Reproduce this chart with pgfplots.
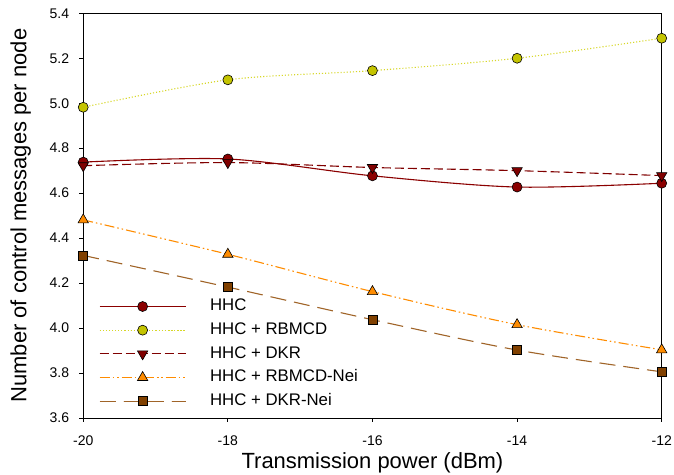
\documentclass[border=0pt]{standalone}
\usepackage{pgfplots}
\pgfplotsset{compat=1.18}
\usepackage{fontspec}
\setmainfont{Liberation Sans}

\definecolor{hhc}{RGB}{139,0,0}
\definecolor{rbm}{RGB}{196,196,0}
\definecolor{rbmline}{RGB}{215,215,40}
\definecolor{dkr}{RGB}{128,0,0}
\definecolor{nei}{RGB}{255,140,0}
\definecolor{dkrnei}{RGB}{128,64,0}
\definecolor{dkrneiline}{RGB}{160,100,40}

\begin{document}
\begin{tikzpicture}
% fixed page size: 674 x 475 with the plot box at (83,13)-(662,418)
\path[use as bounding box] (-83.3pt,-56.7pt) rectangle (591.3pt,418.3pt);
\begin{axis}[
    scale only axis,
    width=579pt, height=405pt,
    xmin=-20, xmax=-12,
    ymin=3.6, ymax=5.4,
    xtick={-20,-18,-16,-14,-12},
    ytick={3.6,3.8,4.0,4.2,4.4,4.6,4.8,5.0,5.2,5.4},
    yticklabel style={/pgf/number format/fixed, /pgf/number format/fixed zerofill,
        /pgf/number format/precision=1},
    /pgf/number format/assume math mode=true,
    tick pos=left,
    tick align=outside,
    major tick length=4pt,
    tick style={black, line width=0.8pt},
    axis line style={line width=0.8pt},
    tick label style={font=\fontsize{14}{16}\selectfont},
    yticklabel style={inner sep=0pt, xshift=-10pt},
    xticklabel style={inner sep=0pt, yshift=-14pt},
    xlabel={Transmission power (dBm)},
    ylabel={Number of control messages per node},
    label style={font=\fontsize{22}{26}\selectfont},
    xlabel style={at={(axis description cs:0.5,0)}, anchor=base, yshift=-50.7pt},
    ylabel style={at={(axis description cs:0,0.5)}, anchor=base, yshift=57pt},
    clip=false,
    legend cell align=left,
    legend image code/.code={
        \draw[mark repeat=2, mark phase=2, #1] plot coordinates {(0pt,0pt) (43pt,0pt) (86pt,0pt)};
    },
    legend style={
        draw=none, fill=none,
        at={(axis cs:-19.783,3.639)}, anchor=south west,
        inner sep=0pt, row sep=8.2pt, column sep=24pt,
        font=\fontsize{16.8}{19}\selectfont,
        nodes={inner sep=0pt, text height=12pt, text depth=3.5pt},
    },
]
\addplot[hhc, line width=1.1pt, smooth, mark=*, mark size=5pt,
    mark options={solid, fill=hhc, draw=black, line width=0.6pt}]
    coordinates {(-20,4.738) (-18,4.752) (-16,4.677) (-14,4.627) (-12,4.644)};
\addlegendentry{HHC}

\addplot[rbmline, line width=1.1pt, smooth, dotted, mark=*, mark size=5pt,
    mark options={solid, fill=rbm, draw=black, line width=0.6pt}]
    coordinates {(-20,4.982) (-18,5.104) (-16,5.145) (-14,5.200) (-12,5.289)};
\addlegendentry{HHC + RBMCD}

\addplot[dkr, line width=1.1pt, smooth, dash pattern=on 9pt off 4pt, mark=triangle*, mark size=6pt,
    mark options={solid, rotate=180, fill=dkr, draw=black, line width=0.6pt}]
    coordinates {(-20,4.722) (-18,4.736) (-16,4.714) (-14,4.700) (-12,4.678)};
\addlegendentry{HHC + DKR}

\addplot[nei, line width=1.1pt, smooth, dash pattern=on 10pt off 3pt on 1.5pt off 3pt on 1.5pt off 3pt,
    mark=triangle*, mark size=6pt,
    mark options={solid, fill=nei, draw=black, line width=0.6pt}]
    coordinates {(-20,4.481) (-18,4.328) (-16,4.162) (-14,4.015) (-12,3.903)};
\addlegendentry{HHC + RBMCD-Nei}

\addplot[dkrneiline, line width=1.1pt, smooth, dash pattern=on 16pt off 8pt, mark=square*, mark size=4.5pt,
    mark options={solid, fill=dkrnei, draw=black, line width=0.6pt}]
    coordinates {(-20,4.323) (-18,4.182) (-16,4.037) (-14,3.902) (-12,3.805)};
\addlegendentry{HHC + DKR-Nei}
\end{axis}
\end{tikzpicture}
\end{document}
